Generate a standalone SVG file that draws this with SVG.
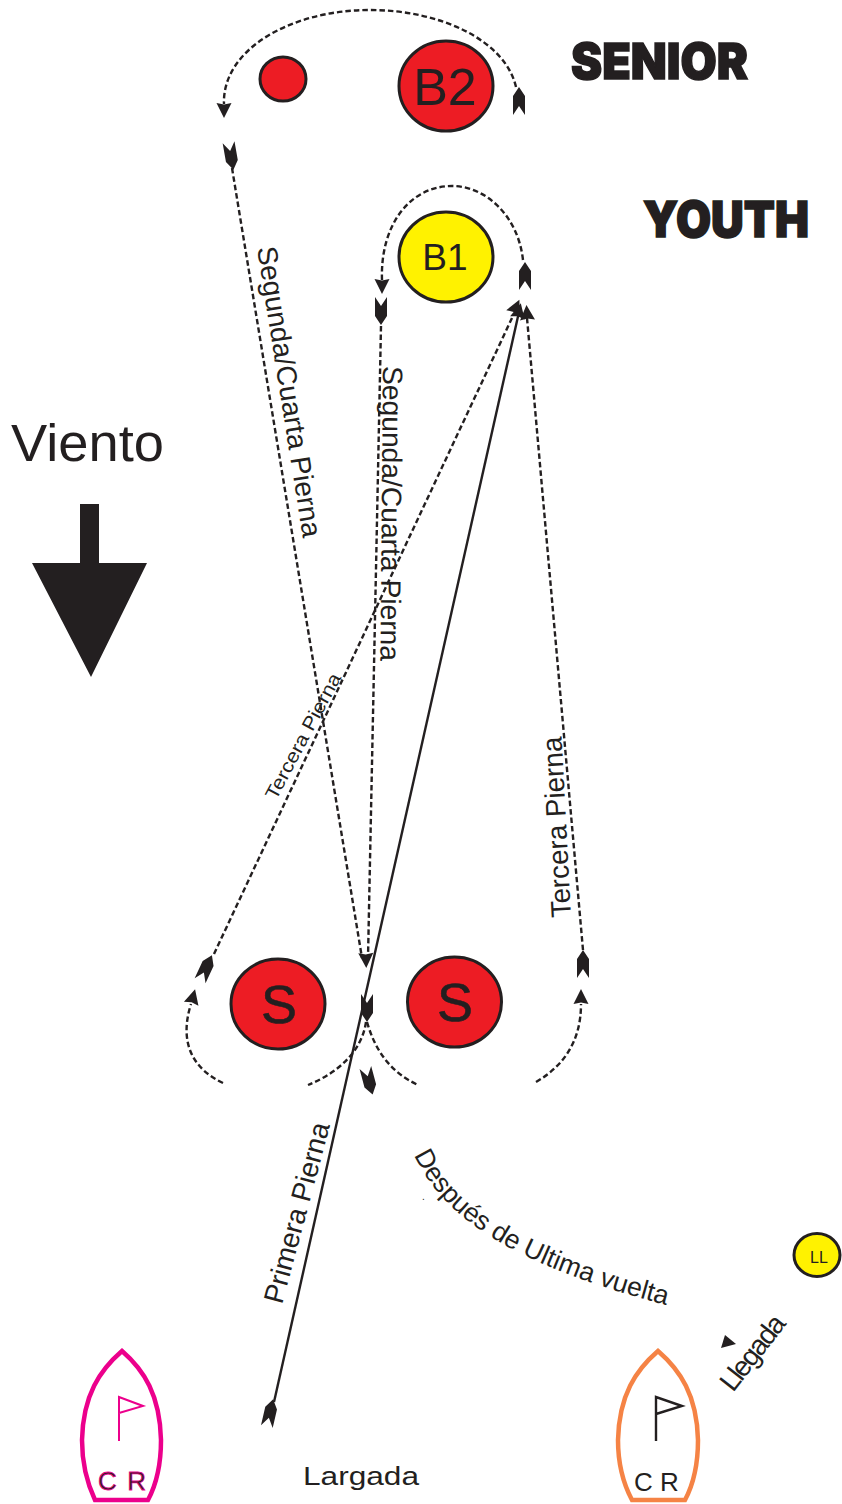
<svg xmlns="http://www.w3.org/2000/svg" width="842" height="1504" viewBox="0 0 842 1504">
<style>
text{font-family:"Liberation Sans",Arial,sans-serif;fill:#231f20}
.d{fill:none;stroke:#231f20;stroke-width:2.400;stroke-dasharray:5.500 3}
.s{fill:none;stroke:#231f20;stroke-width:2.400}
.c{stroke:#231f20;stroke-width:3}
.r{fill:#ed1c24}.y{fill:#fff200}
.l{font-size:28px}
.h{font-family:Inter,"Liberation Sans",sans-serif;font-weight:900;font-size:50px;stroke:#231f20;stroke-width:1.500}
</style>
<defs>
<path id="t" d="M0 -14L6 -5L6 14L0 5L-6 14L-6 -5Z" fill="#231f20"/>
<path id="a" d="M0 -8L7.500 7L0 5.500L-7.500 7Z" fill="#231f20"/>
<path id="after" d="M414 1155C440 1209 495 1261 670 1306"/>
</defs>
<rect width="842" height="1504" fill="#fff"/>
<g id="connectors">
<path class="d" d="M516 87C505 40 440 10 370 10C290 10 222 50 224 104"/>
<path class="d" d="M232 168L362 958"/>
<path class="d" d="M523 260C518 215 485 186 452 186C410 186 380 225 382 280"/>
<path class="d" d="M381 326L368 958"/>
<path class="d" d="M583 950L527 318"/>
<path class="d" d="M214 954L512 318"/>
<path class="s" d="M274 1402L519 312"/>
<path class="d" d="M536 1082C565 1065 581 1040 581 1004"/>
<path class="d" d="M223 1083C195 1070 178 1045 191 1004"/>
<path class="d" d="M366 1022C362 1050 340 1072 308 1085"/>
<path class="d" d="M367 1022C375 1050 390 1072 418 1085"/>
<use href="#t" transform="translate(519 101)"/>
<use href="#a" transform="translate(224 110) rotate(180)"/>
<use href="#t" transform="translate(231 156) rotate(170)"/>
<use href="#t" transform="translate(525 276)"/>
<use href="#a" transform="translate(382 286) rotate(180)"/>
<use href="#t" transform="translate(381 311) rotate(180)"/>
<use href="#a" transform="translate(516 307) rotate(25)"/>
<use href="#a" transform="translate(519 311) rotate(13)"/>
<use href="#a" transform="translate(527 313) rotate(-4)"/>
<use href="#a" transform="translate(366 960) rotate(178)"/>
<use href="#t" transform="translate(206 968) rotate(25)"/>
<use href="#a" transform="translate(193 997) rotate(15)"/>
<use href="#t" transform="translate(583 964)"/>
<use href="#a" transform="translate(581 997)"/>
<use href="#t" transform="translate(367 1008) rotate(180)"/>
<use href="#t" transform="translate(369 1081) rotate(165)"/>
<use href="#t" transform="translate(270 1413) rotate(13)"/>
<path d="M725 1335L736 1344L721 1348Z" fill="#231f20"/>
</g>
<g id="node-blank"><ellipse class="c r" cx="283" cy="79" rx="23" ry="22"/></g>
<g id="node-b2"><ellipse class="c r" cx="446" cy="86" rx="47" ry="45"/><text x="445" y="105" text-anchor="middle" font-size="52">B2</text></g>
<g id="node-b1"><ellipse class="c y" cx="446" cy="257" rx="47" ry="45"/><text x="445" y="270" text-anchor="middle" font-size="37">B1</text></g>
<g id="node-s1"><ellipse class="c r" cx="278" cy="1004" rx="47" ry="45"/><text x="279" y="1023" text-anchor="middle" font-size="54" stroke="#231f20" stroke-width=".6">S</text></g>
<g id="node-s2"><ellipse class="c r" cx="454.500" cy="1002" rx="47" ry="45"/><text x="455" y="1021" text-anchor="middle" font-size="54" stroke="#231f20" stroke-width=".6">S</text></g>
<g id="node-ll"><ellipse class="c y" cx="817" cy="1255" rx="23" ry="21.500"/><text x="819" y="1263" text-anchor="middle" font-size="16">LL</text></g>
<g id="wind">
<path d="M80 504H99V563H147L91 677L32 563H80Z" fill="#231f20"/>
<text x="11" y="461" font-size="51" textLength="153" lengthAdjust="spacingAndGlyphs">Viento</text>
</g>
<g id="titles">
<text class="h" x="571" y="78.500" textLength="177" lengthAdjust="spacingAndGlyphs">SENIOR</text>
<text class="h" x="643" y="237" textLength="166" lengthAdjust="spacingAndGlyphs">YOUTH</text>
</g>
<g id="labels">
<text class="l" transform="translate(257 248) rotate(81)" textLength="294" lengthAdjust="spacingAndGlyphs">Segunda/Cuarta Pierna</text>
<text class="l" transform="translate(383 366) rotate(90.500)" textLength="295" lengthAdjust="spacingAndGlyphs">Segunda/Cuarta Pierna</text>
<text transform="translate(276 801) rotate(-62)" font-size="19" textLength="140" lengthAdjust="spacingAndGlyphs">Tercera Pierna</text>
<text class="l" transform="translate(571 917) rotate(-93)" textLength="181" lengthAdjust="spacingAndGlyphs">Tercera Pierna</text>
<text class="l" transform="translate(282 1305) rotate(-75)" textLength="186" lengthAdjust="spacingAndGlyphs">Primera Pierna</text>
<text font-size="26.600"><textPath href="#after">Después de Ultima vuelta</textPath></text>
<text x="422" y="1200" font-size="10">.</text>
<text class="l" transform="translate(733 1393) rotate(-52)" textLength="88" lengthAdjust="spacing">Llegada</text>
<text x="303" y="1485" font-size="26" textLength="116" lengthAdjust="spacingAndGlyphs">Largada</text>
</g>
<g id="boat-magenta">
<path d="M122 1351C100 1370 83 1395 82 1440C82 1465 88 1485 95 1500H148C156 1485 161 1465 161 1440C160 1395 144 1370 122 1351Z" fill="none" stroke="#ec008c" stroke-width="4.500"/>
<path d="M119 1441V1397L143 1406L119 1413" fill="none" stroke="#ec008c" stroke-width="2"/>
<text x="98" y="1490" font-size="26" stroke="#ec008c" stroke-width=".8" textLength="48" lengthAdjust="spacing">C R</text>
</g>
<g id="boat-orange">
<path d="M658 1351C636 1370 619 1395 618 1440C618 1465 624 1485 632 1500H685C693 1485 698 1465 698 1440C697 1395 680 1370 658 1351Z" fill="none" stroke="#f58345" stroke-width="4.500"/>
<path d="M656 1441V1397L682 1406L656 1414" fill="none" stroke="#231f20" stroke-width="2.400"/>
<text x="634" y="1491" font-size="26">C R</text>
</g>
</svg>
